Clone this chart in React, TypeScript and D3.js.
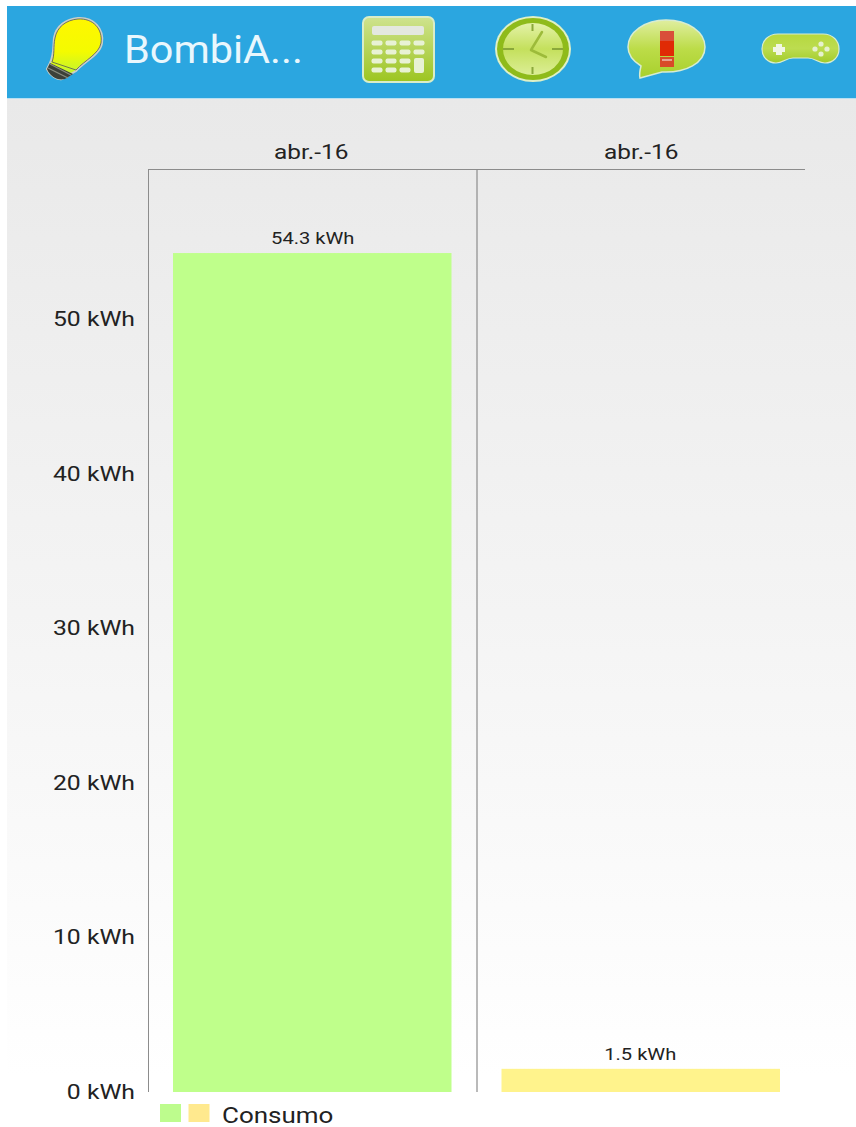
import React from "react";
import * as d3 from "d3";

// Monthly consumption, one bar per column
const months = ["abr.-16", "abr.-16"];
const consumo = [54.3, 1.5];
const barColors = ["#bfff8b", "#fff38c"];
const legendColors = ["#bdfc8d", "#ffe98e"];
const yTicks = [0, 10, 20, 30, 40, 50];
const seriesName = "Consumo";
const appTitle = "BombiA...";

const W = 856;
const H = 1127;
const FONT = "Roboto, 'Noto Sans', sans-serif";
const TEXT = "#222222";

const y = d3.scaleLinear().domain([0, 59.74]).range([1092, 169]);
const x = d3
  .scaleBand<number>()
  .domain(months.map((_, i) => i))
  .range([148.5, 805.5])
  .paddingInner(0)
  .paddingOuter(0);
const barInset = 24.5;

// Text drawn wider than the font's natural proportions
function WideText(props: {
  x: number;
  y: number;
  size: number;
  stretch?: number;
  anchor?: "start" | "middle" | "end";
  fill?: string;
  children: React.ReactNode;
}) {
  const { x: px, y: py, size, stretch = 1.22, anchor = "start", fill = TEXT, children } = props;
  return (
    <text
      transform={`translate(${px},${py}) scale(${stretch},1)`}
      textAnchor={anchor}
      fontFamily={FONT}
      fontSize={size}
      fill={fill}
    >
      {children}
    </text>
  );
}

function Bulb() {
  return (
    <g>
      <path
        d="M78 18 C94 17 104 29 102 43 C100 55 85 61 76 71 L62 79 C57 80 50 76 47 69 L50 63 C54 55 53 47 54 38 C56 26 66 19 78 18 Z"
        fill="url(#bulbFill)"
        stroke="#c9cfc9"
        strokeWidth={2}
      />
      <path d="M78 19 C93 18 103 29 101 43 C99 54 85 60 76 70 L52 62 C55 54 53 47 55 38 C57 27 66 20 78 19 Z" fill="none" stroke="#555" strokeWidth={0.8} />
      <path d="M50 63 L73 74 L65 79 C57 81 50 76 47 69 Z" fill="#3c4038" />
      <path d="M48 68 L68 78 M50 64 L71 75" stroke="#8a8d80" strokeWidth={1.2} />
    </g>
  );
}

function Calculator() {
  const cols = [377, 391, 405, 419];
  const rows = [43, 52, 61, 70];
  return (
    <g>
      <rect x={363} y={17} width={71} height={65} rx={6} fill="url(#calcFill)" stroke="#d9edc8" strokeWidth={2} />
      <rect x={372} y={26} width={52} height={9} rx={2} fill="#e4e8df" />
      {rows.map((r, ri) =>
        cols.map((c, ci) =>
          ri >= 2 && ci === 3 ? null : (
            <rect key={`${ri}-${ci}`} x={c - 5.5} y={r - 2.5} width={11} height={5} rx={2} fill="#e8f2d4" />
          )
        )
      )}
      <rect x={414} y={58} width={10} height={15} rx={2} fill="#e8f2d4" />
    </g>
  );
}

function Clock() {
  return (
    <g>
      <ellipse cx={533} cy={49} rx={38} ry={33} fill="#dff0c6" />
      <ellipse cx={533} cy={49} rx={36} ry={31} fill="#8fbb1a" />
      <ellipse cx={533} cy={49} rx={30} ry={26} fill="url(#clockFill)" />
      <path d="M503 49 H514 M552 49 H563 M532.500 24 V31 M532.500 67 V74" stroke="#8aa83a" strokeWidth={2} />
      <path d="M531 50 L542 32 M531 50 L546 57" stroke="#9dbb3a" strokeWidth={2.5} strokeLinecap="round" />
    </g>
  );
}

function Bubble() {
  return (
    <g>
      <path
        d="M666 20 C688 20 705 32 705 47 C705 63 686 73 662 72 L640 78 C639 74 640 70 641 66 C633 61 628 55 628 47 C628 32 645 20 666 20 Z"
        fill="url(#bubbleFill)"
        stroke="#d7ecd2"
        strokeWidth={1.5}
      />
      <rect x={660} y={31} width={14} height={10} fill="#d94f3a" />
      <rect x={660} y={41} width={14} height={15} fill="#e02a05" />
      <rect x={660} y={57} width={14} height={10} fill="#d84a28" />
      <rect x={662} y={59} width={10} height={2} fill="#e8a090" />
    </g>
  );
}

function Gamepad() {
  const dots: [number, number][] = [[821, 44], [815, 49], [827, 49], [821, 54]];
  return (
    <g>
      <path
        d="M778 34 H823 C833 34 839 41 839 49 C839 57 833 63 825 63 C818 63 815 58 808 58 H793 C786 58 783 63 776 63 C768 63 762 57 762 49 C762 41 768 34 778 34 Z"
        fill="url(#padFill)"
        stroke="#d7ecd2"
        strokeWidth={1.2}
      />
      <path d="M776 44 H782 V47 H785 V52 H782 V55 H776 V52 H773 V47 H776 Z" fill="#f1f6e4" />
      {dots.map(([cx, cy], i) => (
        <circle key={i} cx={cx} cy={cy} r={2.6} fill="#e6f1cf" />
      ))}
    </g>
  );
}

export default function App() {
  const axisColor = "#8c8c8c";
  return (
    <svg
      width={W}
      height={H}
      viewBox={`0 0 ${W} ${H}`}
      style={{ position: "absolute", left: 0, top: 0, display: "block" }}
    >
      <defs>
        <linearGradient id="pageFill" x1="0" y1="0" x2="0" y2="1">
          <stop offset="0" stopColor="#e9e9e9" />
          <stop offset="0.5" stopColor="#f4f4f4" />
          <stop offset="0.95" stopColor="#ffffff" />
        </linearGradient>
        <linearGradient id="bulbFill" x1="0" y1="0" x2="0" y2="1">
          <stop offset="0" stopColor="#fff700" />
          <stop offset="0.55" stopColor="#f4fb00" />
          <stop offset="1" stopColor="#b4f23c" />
        </linearGradient>
        <linearGradient id="calcFill" x1="0" y1="0" x2="0" y2="1">
          <stop offset="0" stopColor="#cfe38f" />
          <stop offset="1" stopColor="#9cc520" />
        </linearGradient>
        <linearGradient id="clockFill" x1="0" y1="0" x2="0" y2="1">
          <stop offset="0" stopColor="#e4f2a8" />
          <stop offset="0.5" stopColor="#c4e05c" />
          <stop offset="1" stopColor="#dcee96" />
        </linearGradient>
        <linearGradient id="bubbleFill" x1="0" y1="0" x2="0" y2="1">
          <stop offset="0" stopColor="#e0eea0" />
          <stop offset="0.5" stopColor="#bcdc48" />
          <stop offset="1" stopColor="#a8d02c" />
        </linearGradient>
        <linearGradient id="padFill" x1="0" y1="0" x2="0" y2="1">
          <stop offset="0" stopColor="#b6d83e" />
          <stop offset="0.5" stopColor="#bcdc50" />
          <stop offset="1" stopColor="#a2cb2a" />
        </linearGradient>
      </defs>

      <rect x={0} y={0} width={W} height={H} fill="#ffffff" />
      <rect x={7} y={98} width={W - 7} height={H - 98} fill="url(#pageFill)" />

      {/* App bar */}
      <rect x={7} y={6} width={W - 7} height={92} fill="#2ba6e0" />
      <rect x={7} y={98} width={W - 7} height={1} fill="#b9e0f2" />
      <Bulb />
      <WideText x={124} y={63} size={38} stretch={1.09} fill="#e9f7fd">
        {appTitle}
      </WideText>
      <Calculator />
      <Clock />
      <Bubble />
      <Gamepad />

      {/* Column frame */}
      <line x1={148.5} x2={805} y1={169.5} y2={169.5} stroke={axisColor} strokeWidth={1} />
      {months.map((_, i) => (
        <line
          key={i}
          x1={x(i)!}
          x2={x(i)!}
          y1={169}
          y2={1092}
          stroke={axisColor}
          strokeWidth={i === 0 ? 1 : 1.2}
        />
      ))}

      {/* Month headers */}
      {months.map((m, i) => (
        <WideText
          key={i}
          x={x(i)! + x.bandwidth() / 2 - (i === 0 ? 1.5 : 0)}
          y={159}
          anchor="middle"
          size={20}
        >
          {m}
        </WideText>
      ))}

      {/* Value axis labels */}
      {yTicks.map((t) => (
        <WideText key={t} x={135} y={y(t) + 7} anchor="end" size={19.5} stretch={1.27}>
          {`${t} kWh`}
        </WideText>
      ))}

      {/* Bars with value labels */}
      {consumo.map((v, i) => (
        <g key={i}>
          <rect
            x={x(i)! + barInset}
            y={y(v)}
            width={x.bandwidth() - barInset * 2 - 1}
            height={y(0) - y(v)}
            fill={barColors[i]}
          />
          <WideText
            x={x(i)! + x.bandwidth() / 2 - (i === 0 ? 0 : 1)}
            y={y(v) - 9}
            anchor="middle"
            size={16.5}
          >
            {`${v} kWh`}
          </WideText>
        </g>
      ))}

      {/* Legend */}
      {legendColors.map((c, i) => (
        <rect key={i} x={160 + i * 28.5} y={1104} width={21} height={18} fill={c} />
      ))}
      <WideText x={222} y={1123} size={22} stretch={1.18}>
        {seriesName}
      </WideText>
    </svg>
  );
}
